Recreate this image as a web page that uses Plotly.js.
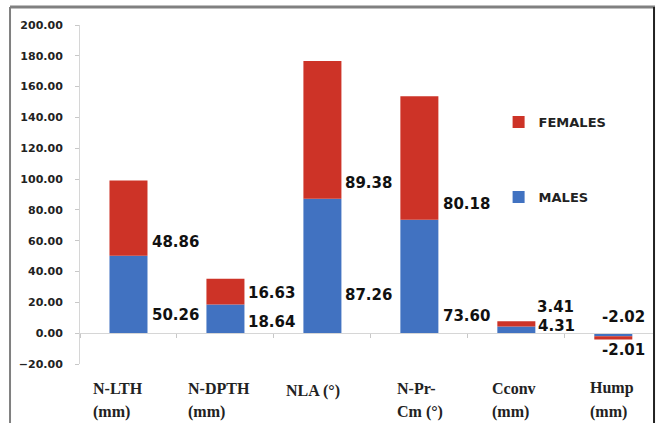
<!DOCTYPE html>
<html>
<head>
<meta charset="utf-8">
<script src="https://cdn.plot.ly/plotly-3.0.1.min.js"></script>
<style>
  html, body { margin: 0; padding: 0; background: #fff; }
  #chart { width: 657px; height: 423px; }
</style>
</head>
<body>
<div id="chart"></div>
<script>
// ---- data ----
var categories = ["N-LTH", "N-DPTH", "NLA", "N-Pr-Cm", "Cconv", "Hump"];
var catLine1 = ["N-LTH", "N-DPTH", "NLA (°)", "N-Pr-", "Cconv", "Hump"];
var catLine2 = ["(mm)", "(mm)", "", "Cm (°)", "(mm)", "(mm)"];
var males = [50.26, 18.64, 87.26, 73.60, 4.31, -2.01];
var females = [48.86, 16.63, 89.38, 80.18, 3.41, -2.02];
var yTicks = [-20, 0, 20, 40, 60, 80, 100, 120, 140, 160, 180, 200];

// ---- styling / placement config ----
var BLUE = "#4172C1", RED = "#CD3327";
var labelFont = {family: "DejaVu Sans", size: 15, color: "#111", weight: 700};
// per-category label pixel offsets (xshift, yshift from the segment base)
var femLabelShift = [[22, 14], [21, 11], [21, 16], [22, 16], [19, 20], [-13, 19]];
var malLabelShift = [[22, 18], [21, 11], [21, 38], [22, 17], [20, 7], [-13, -17]];
var catLabelShift = [-37, -39, -38, -24, -26, -25];
var catLabelDy = [0, 0, 3, 0, 0, 0];

var traces = [
  {type: "bar", name: "MALES", x: categories, y: males, marker: {color: BLUE},
   legend: "legend2", hoverinfo: "skip"},
  {type: "bar", name: "FEMALES", x: categories, y: females, marker: {color: RED},
   legend: "legend", hoverinfo: "skip"}
];

var annotations = [];
categories.forEach(function (c, i) {
  var fBase = males[i];
  annotations.push({x: c, y: fBase, xref: "x", yref: "y", text: females[i].toFixed(2),
    showarrow: false, xanchor: "left", yanchor: "middle",
    xshift: femLabelShift[i][0], yshift: femLabelShift[i][1], font: labelFont});
  annotations.push({x: c, y: 0, xref: "x", yref: "y", text: males[i].toFixed(2),
    showarrow: false, xanchor: "left", yanchor: "middle",
    xshift: malLabelShift[i][0], yshift: malLabelShift[i][1], font: labelFont});
  var catFont = {family: "Liberation Serif", size: 16, color: "#222", weight: 700};
  annotations.push({x: c, y: 0, xref: "x", yref: "paper", text: catLine1[i],
    showarrow: false, xanchor: "left", yanchor: "middle",
    xshift: catLabelShift[i], yshift: -24 - catLabelDy[i], font: catFont});
  if (catLine2[i]) {
    annotations.push({x: c, y: 0, xref: "x", yref: "paper", text: catLine2[i],
      showarrow: false, xanchor: "left", yanchor: "middle",
      xshift: catLabelShift[i], yshift: -48, font: catFont});
  }
});

var layout = {
  width: 657, height: 423,
  margin: {l: 80, r: 2, t: 25, b: 59, pad: 0},
  paper_bgcolor: "#fff", plot_bgcolor: "#fff",
  barmode: "relative", bargap: 0.608,
  showlegend: true,
  legend: {x: 0.728, y: 0.714, xanchor: "left", yanchor: "middle",
    bgcolor: "rgba(0,0,0,0)", font: {family: "DejaVu Sans", size: 13, color: "#222", weight: 700}},
  legend2: {x: 0.728, y: 0.4926, xanchor: "left", yanchor: "middle",
    bgcolor: "rgba(0,0,0,0)", font: {family: "DejaVu Sans", size: 13, color: "#222", weight: 700}},
  xaxis: {type: "category", range: [-0.5, 5.43], anchor: "free", position: 20 / 220,
    showline: true, linecolor: "#d6d6d6", linewidth: 1,
    ticks: "outside", tickson: "boundaries", ticklen: 4, tickcolor: "#c8c8c8",
    showticklabels: false, showgrid: false, zeroline: false, fixedrange: true},
  yaxis: {range: [-20, 200], tickvals: yTicks, tickformat: ".2f",
    showline: true, linecolor: "#d6d6d6", linewidth: 1,
    ticks: "outside", ticklen: 4, tickcolor: "#c8c8c8", ticklabelstandoff: 10,
    tickfont: {family: "DejaVu Sans", size: 11, color: "#222", weight: 700},
    showgrid: false, zeroline: false, fixedrange: true},
  annotations: annotations,
  shapes: [
    {type: "line", xref: "paper", yref: "paper", x0: -0.1217, x1: -0.1217, y0: 1.053, y1: -0.2,
      line: {color: "#808080", width: 2}},
    {type: "line", xref: "paper", yref: "paper", x0: -0.1217, x1: 1.0, y0: 1.053, y1: 1.053,
      line: {color: "#808080", width: 3}},
    {type: "line", xref: "paper", yref: "paper", x0: 0.9983, x1: 0.9983, y0: 1.053, y1: -0.2,
      line: {color: "#222", width: 2}}
  ]
};

Plotly.newPlot("chart", traces, layout, {staticPlot: true, displayModeBar: false});
</script>
</body>
</html>
